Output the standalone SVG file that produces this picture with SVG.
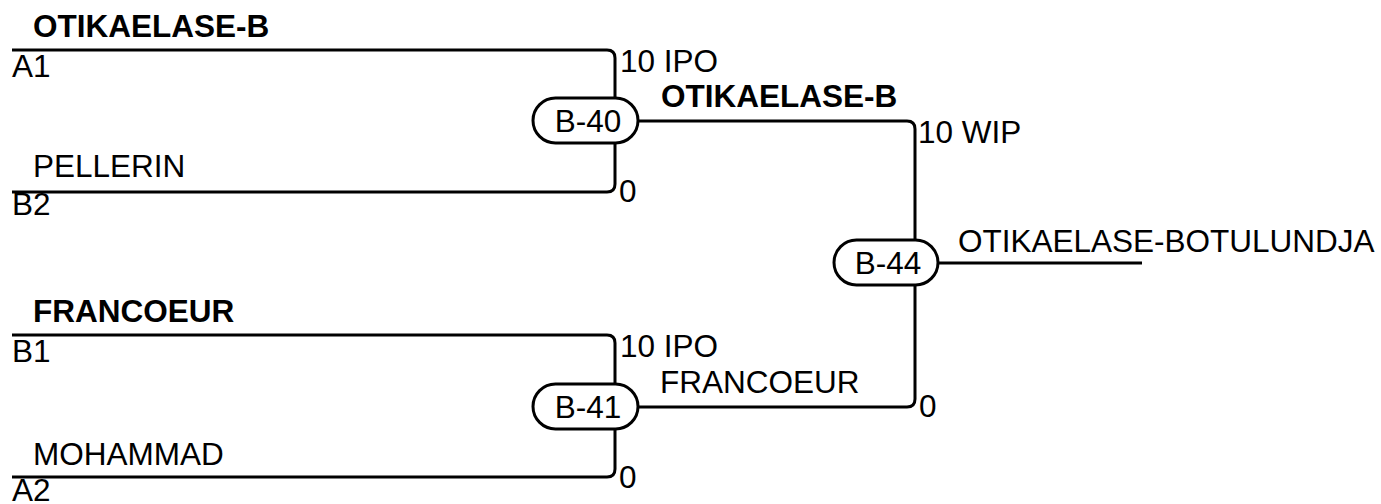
<svg xmlns="http://www.w3.org/2000/svg" width="1381" height="504" viewBox="0 0 1381 504">
<style>
text{font-family:"Liberation Sans",Arial,sans-serif;font-size:31.5px;fill:#000}
.b{font-weight:bold}
.c{text-anchor:middle}
.ln{fill:none;stroke:#000;stroke-width:3}
.pill{fill:#fff;stroke:#000;stroke-width:3}
</style>
<rect width="1381" height="504" fill="#fff"/>
<g id="connectors" class="ln">
<path d="M12,50 H607 Q615,50 615,58 V98"/>
<path d="M12,192 H607 Q615,192 615,184 V143"/>
<path d="M12,335 H607 Q615,335 615,343 V384"/>
<path d="M12,477 H607 Q615,477 615,469 V429"/>
<path d="M638,121 H907 Q915,121 915,129 V240"/>
<path d="M638,407 H907 Q915,407 915,399 V285"/>
<path d="M938,263 H1142"/>
</g>
<g id="labels">
<text class="b" x="33" y="37">OTIKAELASE-B</text>
<text x="12" y="77">A1</text>
<text x="33" y="177">PELLERIN</text>
<text x="12" y="215">B2</text>
<text class="b" x="33" y="322">FRANCOEUR</text>
<text x="12" y="362">B1</text>
<text x="33" y="465">MOHAMMAD</text>
<text x="12" y="501">A2</text>
<text x="620" y="72">10 IPO</text>
<text x="619" y="202">0</text>
<text class="b" x="661" y="107">OTIKAELASE-B</text>
<text x="918" y="143">10 WIP</text>
<text x="620" y="357">10 IPO</text>
<text x="660" y="393">FRANCOEUR</text>
<text x="919" y="417">0</text>
<text x="619" y="488">0</text>
<text x="958" y="252">OTIKAELASE-BOTULUNDJA</text>
</g>
<g id="B-40">
<rect class="pill" x="533" y="98" width="105" height="45" rx="22.5"/>
<text class="c" x="588" y="132">B-40</text>
</g>
<g id="B-41">
<rect class="pill" x="533" y="384" width="105" height="45" rx="22.5"/>
<text class="c" x="588" y="418">B-41</text>
</g>
<g id="B-44">
<rect class="pill" x="834" y="240" width="104" height="45" rx="22.5"/>
<text class="c" x="888" y="274">B-44</text>
</g>
</svg>
